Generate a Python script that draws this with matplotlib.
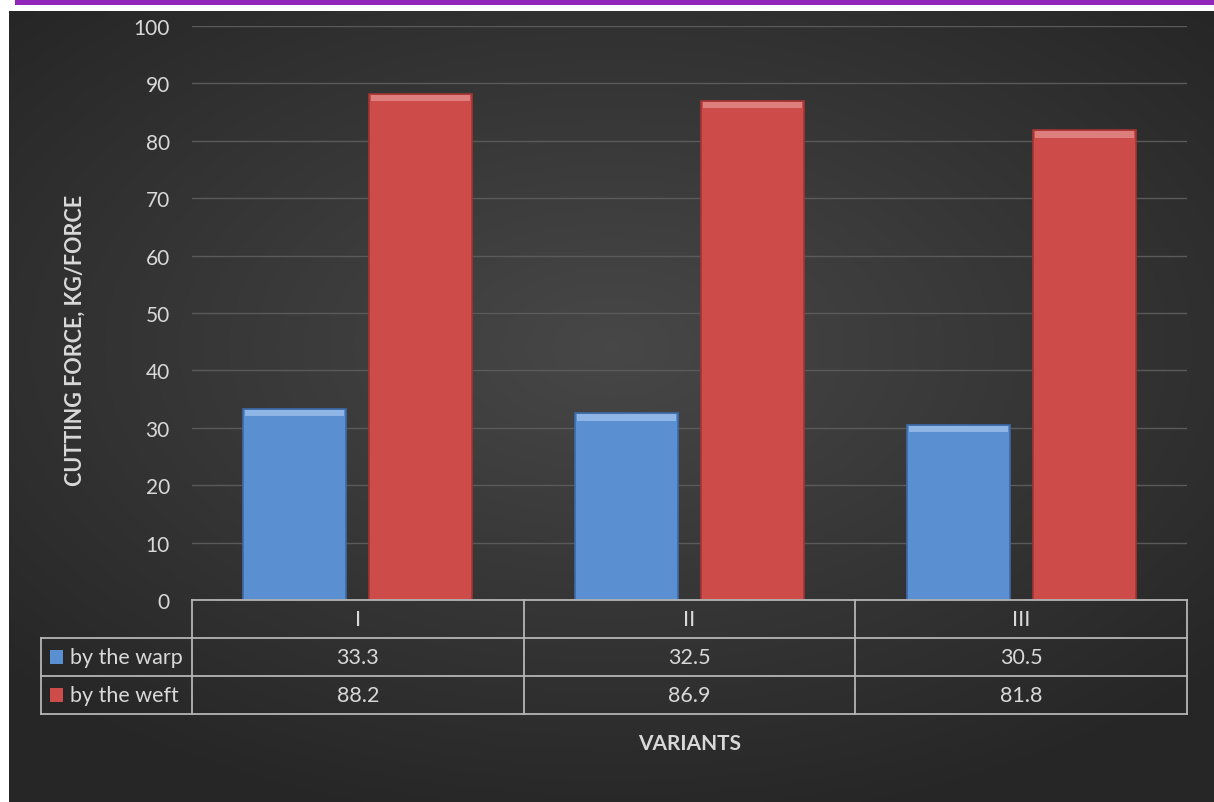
import numpy as np
import matplotlib
matplotlib.use('Agg')
import matplotlib.pyplot as plt
from matplotlib.patches import Rectangle

plt.rcParams['font.family'] = ['Lato', 'DejaVu Sans']

# data
variants = ['I', 'II', 'III']
warp = [33.3, 32.5, 30.5]
weft = [88.2, 86.9, 81.8]
series_names = ['by the warp', 'by the weft']
yticks = [0, 10, 20, 30, 40, 50, 60, 70, 80, 90, 100]

blue = '#5a8fd2'
red = '#cd4c4a'
txt = '#d9d9d9'
W, H = 1214, 803

fig = plt.figure(figsize=(W / 100, H / 100), dpi=100)
fig.patch.set_facecolor('white')

# purple strip on top
fig.add_artist(Rectangle((15 / W, 1 - 6 / H), 1 - 15 / W, 6 / H,
                         transform=fig.transFigure, color='#9124b9', lw=0))

# dark radial-gradient background
bg = fig.add_axes([9 / W, 0, 1 - 9 / W, 1 - 12 / H])
gx, gy = np.meshgrid(np.linspace(-1, 1, 400), np.linspace(-1, 1, 300))
r = np.sqrt((gx * 0.95) ** 2 + ((gy + 0.15) * 1.05) ** 2)
shade = 0.28 - 0.13 * np.clip(r, 0, 1.3) / 1.3
bg.imshow(np.dstack([shade, shade, shade]), aspect='auto', extent=[0, 1, 0, 1])
bg.set_axis_off()

# main axes
ax = fig.add_axes([192 / W, 1 - 601 / H, 995 / W, 574 / H])
ax.set_facecolor('none')
x = np.arange(len(variants))
bw = 0.31
off = 0.19
ax.bar(x - off, warp, bw, color=blue, edgecolor='#3d6aa6', lw=1.2, zorder=3)
ax.bar(x + off, weft, bw, color=red, edgecolor='#a33533', lw=1.2, zorder=3)
# bevel highlight at top of each bar
ax.bar(x - off, [1.1] * len(warp), bw * 0.96, bottom=np.array(warp) - 1.25,
       color='#8fb5e6', lw=0, zorder=4)
ax.bar(x + off, [1.1] * len(weft), bw * 0.96, bottom=np.array(weft) - 1.25,
       color='#df7f7d', lw=0, zorder=4)

ax.set_xlim(-0.5, 2.5)
ax.set_ylim(0, 100)
ax.set_yticks(yticks)
ax.set_xticks([])
ax.yaxis.grid(True, color='#5a5a5a', lw=1)
ax.set_axisbelow(True)
ax.tick_params(axis='y', length=0, pad=16, labelsize=15, labelcolor=txt)
for s in ax.spines.values():
    s.set_visible(False)

# data table under the plot
tb = fig.add_axes([41 / W, 1 - 715 / H, 1146 / W, 114 / H])
tb.set_facecolor('none')
left = -0.5 - 151 / 332
tb.set_xlim(left, 2.5)
tb.set_ylim(0, 3)
tb.set_axis_off()
lc = '#b5b5b5'
lw = 1.3
tb.plot([-0.5, 2.5], [3, 3], color=lc, lw=lw, clip_on=False)
tb.plot([left, 2.5], [2, 2], color=lc, lw=lw, clip_on=False)
tb.plot([left, 2.5], [1, 1], color=lc, lw=lw, clip_on=False)
tb.plot([left, 2.5], [0, 0], color=lc, lw=lw, clip_on=False)
tb.plot([left, left], [0, 2], color=lc, lw=lw, clip_on=False)
for xv in [-0.5, 0.5, 1.5, 2.5]:
    tb.plot([xv, xv], [0, 3], color=lc, lw=lw, clip_on=False)
for i, v in enumerate(variants):
    tb.text(i, 2.5, v, ha='center', va='center', color=txt, fontsize=15.5)
rows = [(series_names[0], warp, blue), (series_names[1], weft, red)]
for k, (name, vals, c) in enumerate(rows):
    yc = 1.5 - k
    tb.add_patch(Rectangle((left + 0.027, yc - 0.18), 0.04, 0.36, color=c, lw=0))
    tb.text(left + 0.087, yc, name, ha='left', va='center', color=txt, fontsize=15.5)
    for i, v in enumerate(vals):
        tb.text(i, yc, f'{v}', ha='center', va='center', color=txt, fontsize=15.5)

fig.text(75 / W, 1 - 340 / H, 'CUTTING FORCE, KG/FORCE', rotation=90, ha='center',
         va='center', color=txt, fontsize=15.5, fontweight='bold')
fig.text(690 / W, 1 - 744 / H, 'VARIANTS', ha='center', va='center', color=txt,
         fontsize=15, fontweight='bold')

fig.savefig('out.png', dpi=100)
